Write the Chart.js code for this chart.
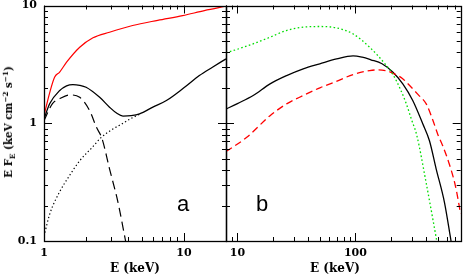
<!DOCTYPE html>
<html>
<head>
<meta charset="utf-8">
<script src="https://cdn.jsdelivr.net/npm/chart.js@4.4.0/dist/chart.umd.min.js"></script>
<style>
  html, body { margin: 0; padding: 0; background: #fff; overflow: hidden; }
  #wrap { position: relative; width: 463px; height: 275px; }
  canvas { position: absolute; left: 0; top: 0; }
  .lbl { position: absolute; font-family: "DejaVu Serif", serif; font-weight: bold; white-space: nowrap; color: #000; }
  .letter { position: absolute; font-family: "Liberation Sans", Arial, sans-serif; font-size: 22px; line-height: 22px; color: #000; }
  sub, sup { font-size: 70%; line-height: 0; }
</style>
</head>
<body>
<div id="wrap">
  <canvas id="cA" width="463" height="275"></canvas>
  <canvas id="cB" width="463" height="275"></canvas>
  <div class="lbl" id="ytitle" style="font-size:10.3px;left:7.5px;top:121.5px;transform:translate(-50%,-50%) rotate(-90deg);">E F<sub>E</sub> (keV cm<sup>−2</sup> s<sup>−1</sup>)</div>
  <div class="lbl" style="font-size:12px;left:135px;top:267.5px;transform:translate(-50%,-50%);">E (keV)</div>
  <div class="lbl" style="font-size:12px;left:335px;top:267.5px;transform:translate(-50%,-50%);">E (keV)</div>
  <div class="letter" style="left:177px;top:193px;">a</div>
  <div class="letter" style="left:256px;top:193px;">b</div>
</div>
<script>
// ---- Panel a (1–20 keV) ----
const aRedX = [1, 1.1, 1.19, 1.29, 1.45, 1.8, 2.24, 2.94, 4.3, 6.5, 9.8, 14, 20];
const aRedY = [1.16, 1.83, 2.46, 2.71, 3.3, 4.42, 5.32, 5.93, 6.76, 7.48, 8.2, 9.05, 9.86];
const aTotX = [1, 1.1, 1.29, 1.45, 1.61, 1.8, 2.0, 2.5, 2.94, 3.3, 3.67, 4.2, 4.82, 6, 7.5, 10, 12.9, 16, 20];
const aTotY = [1.09, 1.47, 1.89, 2.08, 2.13, 2.1, 2.02, 1.66, 1.37, 1.22, 1.15, 1.16, 1.2, 1.37, 1.56, 2.0, 2.54, 2.99, 3.52];
const aDashX = [1, 1.15, 1.3, 1.53, 1.8, 2.12, 2.37, 2.6, 2.94, 3.38, 3.83];
const aDashY = [1.05, 1.47, 1.62, 1.74, 1.66, 1.28, 0.925, 0.74, 0.41, 0.213, 0.1];
const aDotX = [1, 1.1, 1.29, 1.5, 1.8, 2.2, 2.57, 3, 3.67, 4.2, 4.82];
const aDotY = [0.11, 0.17, 0.26, 0.35, 0.48, 0.62, 0.76, 0.87, 1.0, 1.1, 1.19];
// ---- Panel b (8–780 keV) ----
const bGreenX = [8, 10, 13.6, 18, 26, 36, 50, 69, 95, 132, 183, 208, 240, 270, 300, 330, 398, 452, 489];
const bGreenY = [3.96, 4.25, 4.73, 5.27, 6.13, 6.54, 6.63, 6.46, 5.75, 4.42, 3.09, 2.59, 1.95, 1.46, 1.06, 0.8, 0.31, 0.155, 0.1];
const bTotX = [8, 10, 13.6, 18.9, 26.1, 36.1, 49.9, 69.2, 95.5, 114, 135, 168, 208, 252, 306, 372, 424, 483, 568, 646];
const bTotY = [1.32, 1.47, 1.72, 2.16, 2.54, 2.9, 3.2, 3.52, 3.74, 3.64, 3.46, 3.2, 2.71, 2.16, 1.56, 0.99, 0.71, 0.41, 0.213, 0.1];
const bRedX = [8, 12, 18.9, 26.1, 36.1, 50, 69, 95.5, 132, 157, 185, 208, 250, 288, 340, 398, 450, 500, 550, 620, 700, 780];
const bRedY = [0.575, 0.76, 1.16, 1.46, 1.72, 2.0, 2.27, 2.59, 2.8, 2.84, 2.78, 2.66, 2.4, 2.09, 1.75, 1.46, 1.08, 0.8, 0.64, 0.46, 0.3, 0.17];
// ---- axes ----
const yMin = 0.1, yMax = 10;
const aXMin = 1, aXMax = 20;
const bXMin = 8, bXMax = 780;
const yTickLabels = [0.1, 1, 10];
const aXTickLabels = [1, 10];
const bXTickLabels = [10, 100];

const pts = (xs, ys) => xs.map((x, i) => ({x: x, y: ys[i]}));
const isIn = (v, arr) => arr.some(t => Math.abs(v - t) < 1e-9 * t);
const tickFont = {family: "DejaVu Serif", weight: 'bold', size: 11};

const frameTicks = {
  id: 'frameTicks',
  afterDraw(chart) {
    const {ctx, chartArea: a, scales} = chart;
    const xs = scales.x, ys = scales.y;
    const vals = (min, max) => {
      const out = [];
      for (let k = Math.floor(Math.log10(min)) - 1; k <= Math.ceil(Math.log10(max)); k++) {
        for (let d = 1; d <= 9; d++) {
          const v = d * Math.pow(10, k);
          if (v >= min * (1 - 1e-9) && v <= max * (1 + 1e-9)) out.push({v, major: d === 1});
        }
      }
      return out;
    };
    ctx.save();
    ctx.strokeStyle = '#000';
    ctx.lineWidth = 1;
    ctx.beginPath();
    vals(xs.min, xs.max).forEach(t => {
      const px = Math.round(xs.getPixelForValue(t.v)) + 0.5;
      const len = t.major ? 8 : 4;
      ctx.moveTo(px, a.bottom); ctx.lineTo(px, a.bottom - len);
      ctx.moveTo(px, a.top); ctx.lineTo(px, a.top + len);
    });
    vals(ys.min, ys.max).forEach(t => {
      const py = Math.round(ys.getPixelForValue(t.v)) + 0.5;
      const len = t.major ? 8 : 4;
      ctx.moveTo(a.left, py); ctx.lineTo(a.left + len, py);
      ctx.moveTo(a.right, py); ctx.lineTo(a.right - len, py);
    });
    ctx.stroke();
    ctx.lineWidth = 1.3;
    ctx.strokeRect(Math.round(a.left) + 0.5, Math.round(a.top) + 0.5,
                   Math.round(a.right) - Math.round(a.left), Math.round(a.bottom) - Math.round(a.top));
    ctx.restore();
  }
};

function makeChart(id, datasets, xmin, xmax, xLabels, pad, showY) {
  return new Chart(document.getElementById(id), {
    type: 'scatter',
    data: {datasets},
    options: {
      responsive: false,
      animation: false,
      devicePixelRatio: 1,
      layout: {padding: pad},
      plugins: {legend: {display: false}, tooltip: {enabled: false}},
      elements: {point: {radius: 0}},
      scales: {
        x: {
          type: 'logarithmic', min: xmin, max: xmax,
          grid: {display: false, drawTicks: false, tickLength: 0},
          border: {display: false},
          afterFit: s => { s.height = 34; s.paddingLeft = 0; s.paddingRight = 0; },
          ticks: {
            autoSkip: false, maxRotation: 0, padding: 6, color: '#000', font: tickFont,
            callback: v => isIn(v, xLabels) ? String(v) : ''
          }
        },
        y: {
          type: 'logarithmic', min: yMin, max: yMax, display: showY,
          grid: {display: false, drawTicks: false, tickLength: 0},
          border: {display: false},
          afterFit: s => { s.width = showY ? 44 : 0; s.paddingTop = 0; s.paddingBottom = 0; },
          ticks: {
            autoSkip: false, padding: 7, color: '#000', font: tickFont,
            callback: v => isIn(v, yTickLabels) ? String(v) : ''
          }
        }
      }
    },
    plugins: [frameTicks]
  });
}

const line = (data, color, width, dash) => ({
  data, showLine: true, borderColor: color, borderWidth: width, borderDash: dash || [],
  pointRadius: 0, fill: false, cubicInterpolationMode: 'monotone'
});

makeChart('cA', [
  line(pts(aDotX, aDotY), '#000', 1.2, [1.3, 2.4]),
  line(pts(aDashX, aDashY), '#000', 1.2, [9, 5]),
  line(pts(aTotX, aTotY), '#000', 1.3),
  line(pts(aRedX, aRedY), '#ff0000', 1.2)
], aXMin, aXMax, aXTickLabels, {left: 0, right: 237, top: 5.5, bottom: 0}, true);

makeChart('cB', [
  line(pts(bGreenX, bGreenY), '#00dd00', 1.3, [1.6, 2.4]),
  line(pts(bRedX, bRedY), '#ff0000', 1.3, [7, 4]),
  line(pts(bTotX, bTotY), '#000', 1.3)
], bXMin, bXMax, bXTickLabels, {left: 226, right: 2.3, top: 5.5, bottom: 0}, false);
</script>
</body>
</html>
